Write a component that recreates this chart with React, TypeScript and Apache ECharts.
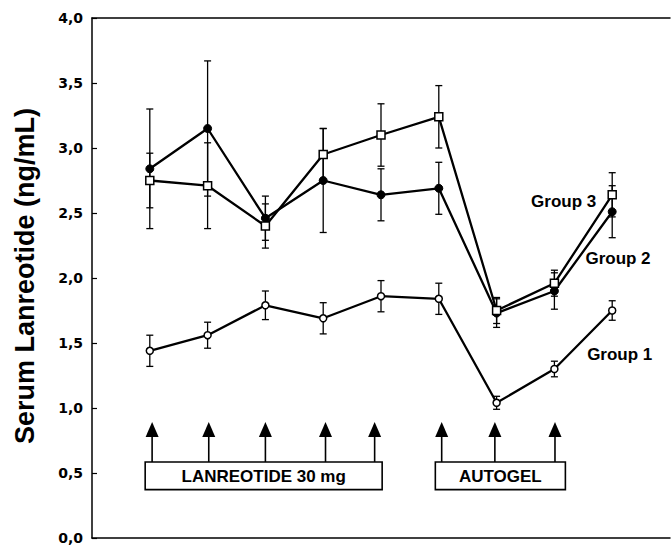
import React, { useEffect, useRef } from 'react';
import * as echarts from 'echarts';

// Sampling times (injection periods), x axis runs 0..10
const timePoints = [1, 2, 3, 4, 5, 6, 7, 8, 9];

// Group 1 (open circles)
const group1Mean = [1.44, 1.56, 1.79, 1.69, 1.86, 1.84, 1.04, 1.30, 1.75];
const group1Err = [0.12, 0.10, 0.11, 0.12, 0.12, 0.12, 0.05, 0.06, 0.075];

// Group 2 (filled circles)
const group2Mean = [2.84, 3.15, 2.46, 2.75, 2.64, 2.69, 1.73, 1.90, 2.51];
const group2Err = [0.46, 0.52, 0.17, 0.40, 0.20, 0.20, 0.11, 0.14, 0.20];

// Group 3 (open squares)
const group3Mean = [2.75, 2.71, 2.40, 2.95, 3.10, 3.24, 1.75, 1.96, 2.64];
const group3Err = [0.21, 0.33, 0.17, 0.20, 0.24, 0.24, 0.10, 0.10, 0.17];

// Injection arrows
const injectionTimes = [1.04, 2.02, 3.0, 4.04, 4.89, 6.05, 6.97, 8.01];

// Treatment periods
const periodLabels = ['LANREOTIDE 30 mg', 'AUTOGEL'];
const periodStart = [0.92, 5.94];
const periodEnd = [5.02, 8.19];

// Group labels
const groupLabels = ['Group 3', 'Group 2', 'Group 1'];
const groupLabelX = [8.16, 9.1, 9.13];
const groupLabelY = [2.585, 2.15, 1.413];

// y-axis ticks
const yMin = 0;
const yMax = 4;
const yStep = 0.5;

const FONT_ARIAL = '"Liberation Sans", Arial, sans-serif';
const FONT_TICK = '"DejaVu Sans", sans-serif';

function errorSeries(mean: number[], err: number[]) {
  return {
    type: 'custom',
    z: 1,
    clip: false,
    data: timePoints.map((x, i) => [x, mean[i] - err[i], mean[i] + err[i]]),
    encode: { x: 0, y: [1, 2] },
    renderItem: (params: any, api: any) => {
      const x = api.value(0);
      const lo = api.coord([x, api.value(1)]);
      const hi = api.coord([x, api.value(2)]);
      const hw = 3.5;
      const st = { stroke: '#000', lineWidth: 1.3 };
      return {
        type: 'group',
        children: [
          { type: 'line', shape: { x1: lo[0], y1: lo[1], x2: hi[0], y2: hi[1] }, style: st },
          { type: 'line', shape: { x1: lo[0] - hw, y1: lo[1], x2: lo[0] + hw, y2: lo[1] }, style: st },
          { type: 'line', shape: { x1: hi[0] - hw, y1: hi[1], x2: hi[0] + hw, y2: hi[1] }, style: st },
        ],
      };
    },
  };
}

export default function App() {
  const ref = useRef<HTMLDivElement>(null);

  useEffect(() => {
    document.body.style.margin = '0';
    const chart = echarts.init(ref.current!, null, { renderer: 'svg' });

    const option: any = {
      animation: false,
      backgroundColor: '#fff',
      grid: { left: 92, right: 2, top: 18, bottom: 9 },
      xAxis: [
        {
          type: 'value',
          min: 0,
          max: 10,
          position: 'bottom',
          axisLine: { show: true, lineStyle: { color: '#000', width: 1.5 } },
          axisTick: { show: false },
          axisLabel: { show: false },
          splitLine: { show: false },
        },
        {
          type: 'value',
          min: 0,
          max: 10,
          position: 'top',
          axisLine: { show: true, lineStyle: { color: '#000', width: 1.5 } },
          axisTick: { show: false },
          axisLabel: { show: false },
          splitLine: { show: false },
        },
      ],
      yAxis: {
        type: 'value',
        min: yMin,
        max: yMax,
        interval: yStep,
        axisLine: { show: true, lineStyle: { color: '#000', width: 1.5 } },
        axisTick: { show: true, inside: true, length: 5, lineStyle: { color: '#000', width: 1.2 } },
        axisLabel: {
          margin: 9,
          color: '#000',
          fontFamily: FONT_TICK,
          fontWeight: 'bold',
          fontSize: 14,
          formatter: (v: number) => v.toFixed(1).replace('.', ','),
        },
        splitLine: { show: false },
      },
      graphic: [
        {
          type: 'text',
          x: 25,
          y: 276,
          rotation: Math.PI / 2,
          style: {
            text: 'Serum Lanreotide (ng/mL)',
            fontFamily: FONT_ARIAL,
            fontWeight: 'bold',
            fontSize: 27,
            fill: '#000',
            align: 'center',
            verticalAlign: 'middle',
          },
        },
      ],
      series: [
        errorSeries(group1Mean, group1Err),
        errorSeries(group2Mean, group2Err),
        errorSeries(group3Mean, group3Err),
        {
          type: 'line',
          name: 'Group 2',
          z: 3,
          data: timePoints.map((x, i) => [x, group2Mean[i]]),
          symbol: 'circle',
          symbolSize: 8,
          lineStyle: { color: '#000', width: 2.3 },
          itemStyle: { color: '#000', borderColor: '#000', borderWidth: 1 },
        },
        {
          type: 'line',
          name: 'Group 3',
          z: 4,
          data: timePoints.map((x, i) => [x, group3Mean[i]]),
          symbol: 'rect',
          symbolSize: 8,
          lineStyle: { color: '#000', width: 2.3 },
          itemStyle: { color: '#fff', borderColor: '#000', borderWidth: 1.5 },
        },
        {
          type: 'line',
          name: 'Group 1',
          z: 4,
          data: timePoints.map((x, i) => [x, group1Mean[i]]),
          symbol: 'circle',
          symbolSize: 7,
          lineStyle: { color: '#000', width: 2.3 },
          itemStyle: { color: '#fff', borderColor: '#000', borderWidth: 1.5 },
        },
        // injection arrows
        {
          type: 'custom',
          z: 5,
          clip: false,
          data: injectionTimes.map((x) => [x]),
          encode: { x: 0 },
          renderItem: (params: any, api: any) => {
            const x = api.value(0);
            const base = api.coord([x, 0.585]);
            const neck = api.coord([x, 0.777]);
            const tip = api.coord([x, 0.892]);
            return {
              type: 'group',
              children: [
                {
                  type: 'line',
                  shape: { x1: base[0], y1: base[1], x2: neck[0], y2: neck[1] },
                  style: { stroke: '#000', lineWidth: 1.6 },
                },
                {
                  type: 'polygon',
                  shape: {
                    points: [
                      [tip[0], tip[1]],
                      [neck[0] - 6.5, neck[1]],
                      [neck[0] + 6.5, neck[1]],
                    ],
                  },
                  style: { fill: '#000' },
                },
              ],
            };
          },
        },
        // treatment period boxes
        {
          type: 'custom',
          z: 6,
          clip: false,
          data: periodStart.map((s, i) => [s, periodEnd[i]]),
          encode: { x: [0, 1] },
          renderItem: (params: any, api: any) => {
            const p0 = api.coord([api.value(0), 0.585]);
            const p1 = api.coord([api.value(1), 0.372]);
            return {
              type: 'group',
              children: [
                {
                  type: 'rect',
                  shape: { x: p0[0], y: p0[1], width: p1[0] - p0[0], height: p1[1] - p0[1] },
                  style: { fill: '#fff', stroke: '#000', lineWidth: 1.6 },
                },
                {
                  type: 'text',
                  x: (p0[0] + p1[0]) / 2,
                  y: (p0[1] + p1[1]) / 2 + 1,
                  style: {
                    text: periodLabels[params.dataIndex],
                    fontFamily: FONT_ARIAL,
                    fontWeight: 'bold',
                    fontSize: 17,
                    fill: '#000',
                    align: 'center',
                    verticalAlign: 'middle',
                  },
                },
              ],
            };
          },
        },
        // group labels
        {
          type: 'custom',
          z: 6,
          clip: false,
          data: groupLabelX.map((x, i) => [x, groupLabelY[i]]),
          encode: { x: 0, y: 1 },
          renderItem: (params: any, api: any) => {
            const p = api.coord([api.value(0), api.value(1)]);
            return {
              type: 'text',
              x: p[0],
              y: p[1],
              style: {
                text: groupLabels[params.dataIndex],
                fontFamily: FONT_ARIAL,
                fontWeight: 'bold',
                fontSize: 17,
                fill: '#000',
                align: 'center',
                verticalAlign: 'middle',
              },
            };
          },
        },
      ],
    };

    chart.setOption(option);
    return () => chart.dispose();
  }, []);

  return <div ref={ref} style={{ width: 672, height: 547 }} />;
}
